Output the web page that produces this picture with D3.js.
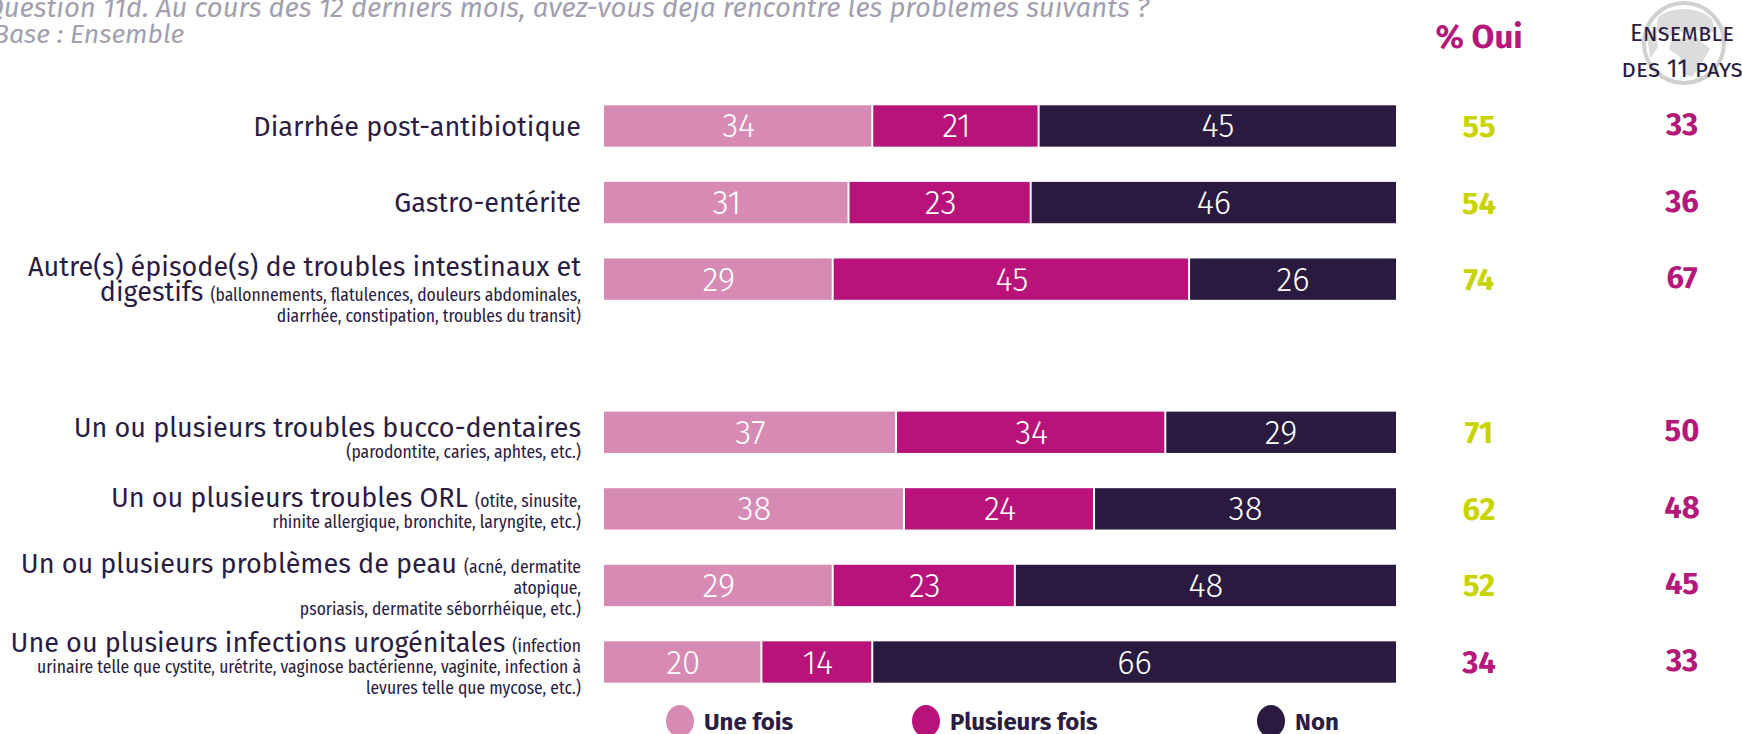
<!DOCTYPE html>
<html>
<head>
<meta charset="utf-8">
<script src="https://cdn.jsdelivr.net/npm/d3@7"></script>
<style>
  body { margin: 0; background: #fff; }
  svg { display: block; }
  text { font-family: "Fira Sans", "Open Sans", sans-serif; }
</style>
</head>
<body>
<svg id="chart" width="1742" height="734"></svg>
<script>
// ---- data ----
var categories = [
  "Diarrhée post-antibiotique",
  "Gastro-entérite",
  "Autre(s) épisode(s) de troubles intestinaux et digestifs",
  "Un ou plusieurs troubles bucco-dentaires",
  "Un ou plusieurs troubles ORL",
  "Un ou plusieurs problèmes de peau",
  "Une ou plusieurs infections urogénitales"
];
var uneFois       = [34, 31, 29, 37, 38, 29, 20];
var plusieursFois = [21, 23, 45, 34, 24, 23, 14];
var nonValues     = [45, 46, 26, 29, 38, 48, 66];
var pctOui        = [55, 54, 74, 71, 62, 52, 34];
var ensemble11    = [33, 36, 67, 50, 48, 45, 33];
var ouiAbove      = [true, true, true, true, true, true, false];
var seriesNames   = ["Une fois", "Plusieurs fois", "Non"];

// label lines: each line = list of [text, "L"arge | "S"mall]
var labelLines = [
  [[["Diarrhée post-antibiotique", "L"]]],
  [[["Gastro-entérite", "L"]]],
  [[["Autre(s) épisode(s) de troubles intestinaux et", "L"]],
   [["digestifs", "L"], ["(ballonnements, flatulences, douleurs abdominales,", "S"]],
   [["diarrhée, constipation, troubles du transit)", "S"]]],
  [[["Un ou plusieurs troubles bucco-dentaires", "L"]],
   [["(parodontite, caries, aphtes, etc.)", "S"]]],
  [[["Un ou plusieurs troubles ORL", "L"], ["(otite, sinusite,", "S"]],
   [["rhinite allergique, bronchite, laryngite, etc.)", "S"]]],
  [[["Un ou plusieurs problèmes de peau", "L"], ["(acné, dermatite", "S"]],
   [["atopique,", "S"]],
   [["psoriasis, dermatite séborrhéique, etc.)", "S"]]],
  [[["Une ou plusieurs infections urogénitales", "L"], ["(infection", "S"]],
   [["urinaire telle que cystite, urétrite, vaginose bactérienne, vaginite, infection à", "S"]],
   [["levures telle que mycose, etc.)", "S"]]]
];

// ---- layout ----
var colors = { une: "#d78bb4", plus: "#b8137a", non: "#2a1a40" };
var dark = "#2b1d42", magenta = "#b5177a", green = "#c8d400", grey = "#a39fb1";
var labelShift = [0, 0, 12, 7, 1, 1, 3];
var LARGE = 27, SMALL = 17.5;

var svg = d3.select("#chart");

var rowKeys = categories.slice(0, 3).concat(["__gap"], categories.slice(3));
var y = d3.scaleBand().domain(rowKeys).range([87.7, 700.3])
  .paddingInner(0.46).paddingOuter(0.23);
var x = d3.scaleLinear().domain([0, 100]).range([604, 1396]);

var table = categories.map(function (c, i) {
  return { cat: c, une: uneFois[i], plus: plusieursFois[i], non: nonValues[i] };
});
var stack = d3.stack().keys(["une", "plus", "non"])(table);

// title
svg.append("text").attr("x", -15).attr("y", 17)
  .attr("font-size", 27.5).attr("font-style", "italic").attr("fill", grey)
  .text("Question 11d. Au cours des 12 derniers mois, avez-vous déjà rencontré les problèmes suivants ?");
svg.append("text").attr("x", -7).attr("y", 43)
  .attr("font-size", 26.5).attr("font-style", "italic").attr("fill", grey)
  .text("Base : Ensemble");

// bars
var layers = svg.append("g").selectAll("g").data(stack).enter().append("g")
  .attr("fill", function (d) { return colors[d.key]; });

layers.selectAll("rect").data(function (d) { return d; }).enter().append("rect")
  .attr("x", function (d) { return x(d[0]); })
  .attr("y", function (d) { return y(d.data.cat); })
  .attr("width", function (d) { return x(d[1]) - x(d[0]) - (d[1] < 100 ? 2 : 0); })
  .attr("height", y.bandwidth());

layers.selectAll("text").data(function (d) { return d; }).enter().append("text")
  .attr("x", function (d) { return x((d[0] + d[1]) / 2); })
  .attr("y", function (d) { return y(d.data.cat) + y.bandwidth() / 2 + 11.5; })
  .attr("text-anchor", "middle")
  .attr("font-family", "Roboto, sans-serif")
  .attr("font-weight", 300)
  .attr("font-size", 33)
  .attr("fill", "#fff")
  .text(function (d) { return d[1] - d[0]; });

// row labels
categories.forEach(function (c, i) {
  var lines = labelLines[i];
  var pos = [0];
  for (var k = 1; k < lines.length; k++) {
    var prevLarge = lines[k - 1].some(function (s) { return s[1] === "L"; });
    pos.push(pos[k - 1] + (prevLarge ? 24.5 : 21));
  }
  var cy = y(c) + y.bandwidth() / 2 - pos[pos.length - 1] / 2 + labelShift[i];
  lines.forEach(function (segs, k) {
    var hasLarge = segs.some(function (s) { return s[1] === "L"; });
    var t = svg.append("text")
      .attr("x", 581)
      .attr("y", cy + pos[k] + (hasLarge ? LARGE : SMALL) * 0.36)
      .attr("text-anchor", "end")
      .attr("fill", dark);
    segs.forEach(function (s, j) {
      t.append("tspan")
        .attr("dx", j > 0 ? 7 : null)
        .attr("font-size", s[1] === "L" ? LARGE : SMALL)
        .attr("font-family", s[1] === "L" ? null : "'Fira Sans Condensed', 'Liberation Sans Narrow', 'Roboto', sans-serif")
        .text(s[0]);
    });
  });
});

// right columns
var colOui = 1479, colEns = 1682;
svg.append("text").attr("x", colOui).attr("y", 48).attr("text-anchor", "middle")
  .attr("font-size", 33).attr("font-weight", 700).attr("fill", magenta).text("% Oui");

// globe icon
var globe = svg.append("g").attr("transform", "translate(1684,43)");
globe.append("circle").attr("r", 40).attr("fill", "none").attr("stroke", "#d0d0d0").attr("stroke-width", 4);
globe.append("path").attr("fill", "#dcdcdc")
  .attr("d", "M-26,-26 C-12,-37 14,-37 28,-24 L31,-12 L20,-8 L12,-14 L4,-8 L-6,-12 L-16,-6 L-28,-12 Z " +
             "M-12,-4 L12,-6 L26,6 L18,20 L8,34 L-1,31 L-4,14 L-15,6 Z " +
             "M-37,-10 L-28,-14 L-26,4 L-34,16 Z");

svg.append("text").attr("x", colEns).attr("y", 41).attr("text-anchor", "middle")
  .attr("font-size", 24).style("font-variant", "small-caps").attr("fill", dark).text("Ensemble");
svg.append("text").attr("x", colEns).attr("y", 77).attr("text-anchor", "middle")
  .attr("font-size", 25).style("font-variant", "small-caps").attr("fill", dark).text("des 11 pays");

svg.append("g").selectAll("text").data(categories).enter().append("text")
  .attr("x", colOui)
  .attr("y", function (c) { return y(c) + y.bandwidth() / 2 + 11; })
  .attr("text-anchor", "middle").attr("font-size", 31).attr("font-weight", 700)
  .attr("fill", function (c, i) { return ouiAbove[i] ? green : magenta; })
  .text(function (c, i) { return pctOui[i]; });

svg.append("g").selectAll("text").data(categories).enter().append("text")
  .attr("x", colEns)
  .attr("y", function (c) { return y(c) + y.bandwidth() / 2 + 9; })
  .attr("text-anchor", "middle").attr("font-size", 31).attr("font-weight", 700)
  .attr("fill", magenta)
  .text(function (c, i) { return ensemble11[i]; });

// legend
var legendX = [680, 926, 1271];
var legendColors = [colors.une, colors.plus, colors.non];
var lg = svg.append("g").selectAll("g").data(seriesNames).enter().append("g")
  .attr("transform", function (d, i) { return "translate(" + legendX[i] + ",721)"; });
lg.append("ellipse").attr("rx", 14).attr("ry", 16)
  .attr("fill", function (d, i) { return legendColors[i]; });
lg.append("text").attr("x", 24).attr("y", 9)
  .attr("font-size", 24).attr("font-weight", 700).attr("fill", dark)
  .text(function (d) { return d; });
</script>
</body>
</html>
